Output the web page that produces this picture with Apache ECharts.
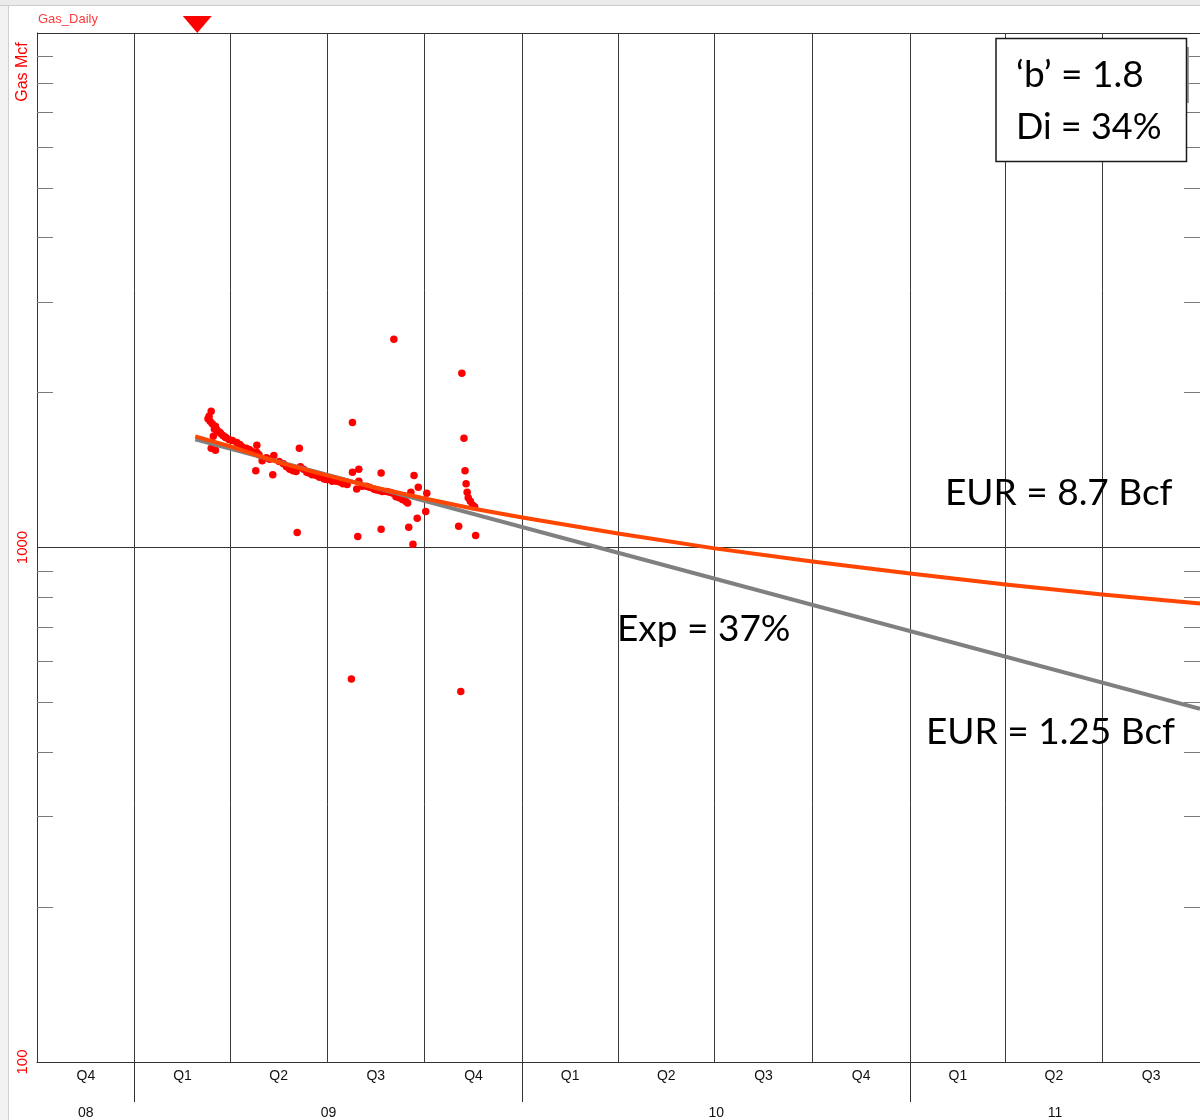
<!DOCTYPE html>
<html>
<head>
<meta charset="utf-8">
<script src="https://cdn.jsdelivr.net/npm/echarts@6/dist/echarts.min.js"></script>
<style>
  html, body { margin: 0; padding: 0; background: #ffffff; }
  #chart { width: 1200px; height: 1120px; }
</style>
</head>
<body>
<div id="chart"></div>
<script>
// ---- axis scaffolding ----
const quarterStarts = [
  '2008-10-01', '2009-01-01', '2009-04-01', '2009-07-01', '2009-10-01',
  '2010-01-01', '2010-04-01', '2010-07-01', '2010-10-01',
  '2011-01-01', '2011-04-01', '2011-07-01', '2011-10-01'
];
const quarterLabels = ['Q4', 'Q1', 'Q2', 'Q3', 'Q4', 'Q1', 'Q2', 'Q3', 'Q4', 'Q1', 'Q2', 'Q3'];
const yearStarts = ['2008-01-01', '2009-01-01', '2010-01-01', '2011-01-01', '2012-01-01'];
const yearLabels = ['08', '09', '10', '11'];
const rateLabelValues = [100, 1000];
const minorTickValues = [200, 300, 400, 500, 600, 700, 800, 900,
                         2000, 3000, 4000, 5000, 6000, 7000, 8000, 9000];

// ---- daily gas rate, Mcf/d ----
const gasDailyDates = [
  '2009-03-11', '2009-03-12', '2009-03-13', '2009-03-14', '2009-03-14', '2009-03-15', '2009-03-16',
  '2009-03-17', '2009-03-18', '2009-03-18', '2009-03-19', '2009-03-20', '2009-03-22', '2009-03-23',
  '2009-03-25', '2009-03-27', '2009-03-28', '2009-03-31', '2009-04-03', '2009-04-07', '2009-04-10',
  '2009-04-12', '2009-04-16', '2009-04-19', '2009-04-22', '2009-04-25', '2009-04-26', '2009-04-26',
  '2009-04-28', '2009-05-01', '2009-05-05', '2009-05-08', '2009-05-11', '2009-05-12', '2009-05-17',
  '2009-05-21', '2009-05-24', '2009-05-27', '2009-05-30', '2009-06-02', '2009-06-03', '2009-06-05',
  '2009-06-06', '2009-06-09', '2009-06-12', '2009-06-14', '2009-06-17', '2009-06-21', '2009-06-24',
  '2009-06-28', '2009-06-30', '2009-07-03', '2009-07-06', '2009-07-10', '2009-07-13', '2009-07-16',
  '2009-07-20', '2009-07-24', '2009-07-25', '2009-07-25', '2009-07-29', '2009-07-30', '2009-07-31',
  '2009-07-31', '2009-08-03', '2009-08-07', '2009-08-10', '2009-08-14', '2009-08-16', '2009-08-19',
  '2009-08-21', '2009-08-21', '2009-08-22', '2009-08-26', '2009-08-29', '2009-09-01', '2009-09-02',
  '2009-09-04', '2009-09-07', '2009-09-10', '2009-09-13', '2009-09-15', '2009-09-16', '2009-09-18',
  '2009-09-20', '2009-09-21', '2009-09-24', '2009-09-25', '2009-10-02', '2009-10-03', '2009-11-02',
  '2009-11-04', '2009-11-05', '2009-11-07', '2009-11-08', '2009-11-09', '2009-11-10', '2009-11-11',
  '2009-11-13', '2009-11-15', '2009-11-17', '2009-11-18'
];
const gasDailyMcf = [
  1780, 1800, 1760, 1840, 1560, 1740, 1645,
  1700, 1720, 1545, 1695, 1685, 1675, 1665,
  1650, 1640, 1635, 1620, 1615, 1600, 1585,
  1570, 1560, 1550, 1535, 1410, 1530, 1580,
  1515, 1475, 1495, 1485, 1385, 1510, 1470,
  1455, 1435, 1420, 1410, 1405, 1070, 1560,
  1435, 1420, 1400, 1395, 1385, 1380, 1370,
  1360, 1355, 1355, 1345, 1345, 1340, 1330,
  1325, 555, 1750, 1400, 1300, 1050, 1420,
  1345, 1315, 1315, 1310, 1300, 1295, 1290,
  1395, 1085, 1285, 1285, 1280, 1275, 2540,
  1255, 1250, 1240, 1230, 1220, 1095, 1280,
  1015, 1380, 1140, 1310, 1175, 1275, 1100,
  525, 2180, 1630, 1410, 1330, 1280, 1250,
  1230, 1210, 1200, 1055
];

// ---- hyperbolic forecast (b = 1.8) ----
const hypDates = [
  '2009-02-27', '2009-04-01', '2009-05-17', '2009-07-01', '2009-08-15', '2009-10-01', '2009-11-15',
  '2010-01-01', '2010-04-01', '2010-07-01', '2010-10-01', '2011-01-01', '2011-04-01', '2011-07-01',
  '2011-10-01'
];
const hypMcf = [1644, 1572, 1463, 1381, 1308, 1245, 1191, 1144, 1065, 996, 939, 890, 847, 810, 778];

// ---- exponential forecast ----
const expDates = ['2009-02-27', '2010-04-01', '2011-10-01'];
const expMcf = [1622, 977, 486];

// dates are placed on a linear millisecond scale
const toTime = s => (echarts.time && echarts.time.parse ? echarts.time.parse(s) : new Date(s)).getTime();
const pair = (dates, vals) => dates.map((d, i) => [toTime(d), vals[i]]);

const quarterTs = quarterStarts.map(toTime);
const axisMin = quarterTs[0];
const axisMax = quarterTs[quarterTs.length - 1];
const quarterMids = quarterLabels.map((_, i) => (quarterTs[i] + quarterTs[i + 1]) / 2);
const yearTs = yearStarts.map(toTime);
const yearMids = yearLabels.map((_, i) => {
  const a = Math.max(yearTs[i], axisMin);
  const b = Math.min(yearTs[i + 1], axisMax);
  return (a + b) / 2;
});
const yearBoundaryTicks = yearTs.filter(t => t > axisMin && t < axisMax);
const labelFor = (mids, labels) => v => {
  const i = mids.findIndex(t => Math.abs(t - v) < 60000);
  return i < 0 ? '' : labels[i];
};

const plainFont = 'Liberation Sans, Arial, Helvetica, sans-serif';
const noteFont = 'Lato, "Open Sans", sans-serif';

const chart = echarts.init(document.getElementById('chart'), null, { renderer: 'canvas' });

const logAxisBase = { type: 'log', logBase: 10, min: 100, max: 10000, gridIndex: 0 };
const timeAxisBase = { type: 'value', min: axisMin, max: axisMax, scale: true, position: 'bottom', gridIndex: 0 };

chart.setOption({
  animation: false,
  backgroundColor: '#ffffff',
  grid: { left: 37, top: 33, width: 1164, height: 1029, containLabel: false },
  xAxis: [
    Object.assign({}, timeAxisBase, {
      axisLine: { show: true, onZero: false, lineStyle: { color: '#333333', width: 1 } },
      axisTick: { show: true, inside: false, length: 40, customValues: yearBoundaryTicks,
                  lineStyle: { color: '#333333', width: 1 } },
      axisLabel: { show: true, customValues: quarterMids, formatter: labelFor(quarterMids, quarterLabels),
                   margin: 7, fontSize: 14, color: '#111111', fontFamily: plainFont },
      splitLine: { show: false }
    }),
    Object.assign({}, timeAxisBase, {
      axisLine: { show: false }, axisTick: { show: false },
      axisLabel: { show: true, customValues: yearMids, formatter: labelFor(yearMids, yearLabels),
                   margin: 44, fontSize: 14, color: '#111111', fontFamily: plainFont },
      splitLine: { show: false }
    })
  ],
  yAxis: [
    Object.assign({}, logAxisBase, {
      position: 'left',
      axisLine: { show: true, onZero: false, lineStyle: { color: '#333333', width: 1 } },
      axisTick: { show: false },
      axisLabel: { show: true, customValues: rateLabelValues, rotate: 90, margin: 7,
                   formatter: v => String(Math.round(v)),
                   color: '#ff0000', fontSize: 15, fontFamily: plainFont },
      splitLine: { show: true, lineStyle: { color: '#333333', width: 1 } }
    }),
    Object.assign({}, logAxisBase, {
      position: 'left',
      axisLine: { show: false },
      axisTick: { show: true, inside: true, length: 16, customValues: minorTickValues,
                  lineStyle: { color: '#7a7a7a', width: 1 } },
      axisLabel: { show: false }, splitLine: { show: false }
    }),
    Object.assign({}, logAxisBase, {
      position: 'right',
      axisLine: { show: true, onZero: false, lineStyle: { color: '#333333', width: 1 } },
      axisTick: { show: true, inside: true, length: 16, customValues: minorTickValues,
                  lineStyle: { color: '#7a7a7a', width: 1 } },
      axisLabel: { show: false }, splitLine: { show: false }
    })
  ],
  series: [
    {
      name: 'Gas_Daily', type: 'scatter', xAxisIndex: 0, yAxisIndex: 0, z: 2,
      symbol: 'circle', symbolSize: 7.5,
      itemStyle: { color: '#ff0000', opacity: 1 },
      data: pair(gasDailyDates, gasDailyMcf),
      markLine: {
        silent: true, z: 1, symbol: ['none', 'none'], animation: false,
        label: { show: false },
        lineStyle: { color: '#3a3a3a', width: 1, type: 'solid' },
        data: quarterTs.slice(1, -1).map(t => ({ xAxis: t }))
      }
    },
    {
      name: 'Exponential', type: 'line', xAxisIndex: 0, yAxisIndex: 0, z: 3,
      showSymbol: false, symbol: 'none',
      lineStyle: { color: '#808080', width: 4 },
      data: pair(expDates, expMcf)
    },
    {
      name: 'Hyperbolic', type: 'line', xAxisIndex: 0, yAxisIndex: 0, z: 4,
      showSymbol: false, symbol: 'none', smooth: false,
      lineStyle: { color: '#ff4500', width: 4, join: 'round' },
      data: pair(hypDates, hypMcf)
    }
  ]
});

// ---- header, annotations and window chrome ----
const markerX = chart.convertToPixel({ xAxisIndex: 0 }, toTime(hypDates[0])) + 2;

chart.setOption({
  graphic: [
    { type: 'rect', silent: true, z: 0, shape: { x: 0, y: 0, width: 8, height: 1120 }, style: { fill: '#f2f2f2' } },
    { type: 'line', silent: true, z: 0, shape: { x1: 8.5, y1: 0, x2: 8.5, y2: 1120 }, style: { stroke: '#cfcfcf', lineWidth: 1 } },
    { type: 'rect', silent: true, z: 0, shape: { x: 0, y: 0, width: 1200, height: 5 }, style: { fill: '#ebebeb' } },
    { type: 'line', silent: true, z: 0, shape: { x1: 0, y1: 5.5, x2: 1200, y2: 5.5 }, style: { stroke: '#cccccc', lineWidth: 1 } },

    { type: 'text', silent: true, x: 38, y: 19,
      style: { text: 'Gas_Daily', fill: '#ff3b3b', fontSize: 13, fontFamily: plainFont, align: 'left', verticalAlign: 'middle' } },
    { type: 'text', silent: true, x: 23, y: 72, rotation: Math.PI / 2,
      style: { text: 'Gas Mcf', fill: '#ff0000', fontSize: 16, fontFamily: plainFont, align: 'center', verticalAlign: 'middle' } },
    { type: 'polygon', silent: true,
      shape: { points: [[markerX - 14.5, 16], [markerX + 14.5, 16], [markerX, 33]] },
      style: { fill: '#ff0000' } },

    { type: 'line', silent: true, z: 5, shape: { x1: 1188, y1: 47, x2: 1188, y2: 103 }, style: { stroke: '#9a9a9a', lineWidth: 2 } },
    { type: 'rect', silent: true, z: 10, shape: { x: 996, y: 38.5, width: 190.5, height: 123 },
      style: { fill: '#ffffff', stroke: '#1a1a1a', lineWidth: 1.5 } },
    { type: 'text', silent: true, z: 11, x: 1016, y: 75,
      style: { text: '\u2018b\u2019 = 1.8', fill: '#000000', fontSize: 37, fontFamily: noteFont, align: 'left', verticalAlign: 'middle' } },
    { type: 'text', silent: true, z: 11, x: 1016, y: 127,
      style: { text: 'Di = 34%', fill: '#000000', fontSize: 36, fontFamily: noteFont, align: 'left', verticalAlign: 'middle' } },

    { type: 'text', silent: true, z: 11, x: 945, y: 493,
      style: { text: 'EUR = 8.7 Bcf', fill: '#000000', fontSize: 37, fontFamily: noteFont, align: 'left', verticalAlign: 'middle' } },
    { type: 'text', silent: true, z: 11, x: 617, y: 629,
      style: { text: 'Exp = 37%', fill: '#000000', fontSize: 37, fontFamily: noteFont, align: 'left', verticalAlign: 'middle' } },
    { type: 'text', silent: true, z: 11, x: 926, y: 732,
      style: { text: 'EUR = 1.25 Bcf', fill: '#000000', fontSize: 37, fontFamily: noteFont, align: 'left', verticalAlign: 'middle' } }
  ]
});
</script>
</body>
</html>
